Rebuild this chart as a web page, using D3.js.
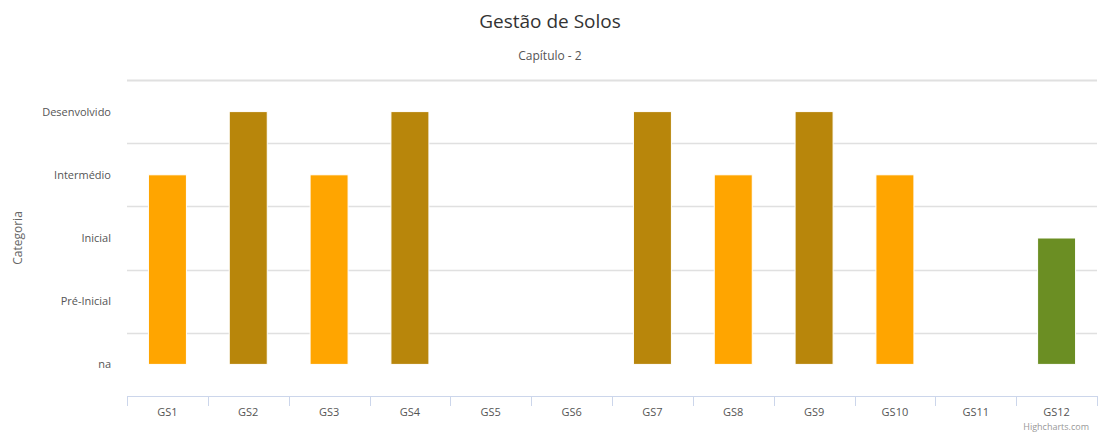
<!DOCTYPE html>
<html><head><meta charset="utf-8">
<script src="https://cdn.jsdelivr.net/npm/d3@7"></script>
<style>body{margin:0;background:#fff}svg{display:block;font-family:"Open Sans",sans-serif}</style>
</head><body><svg id="c" width="1098" height="434"></svg>
<script>
const categories = ["GS1","GS2","GS3","GS4","GS5","GS6","GS7","GS8","GS9","GS10","GS11","GS12"];
const levels = ["na","Pré-Inicial","Inicial","Intermédio","Desenvolvido"];
const values = [3,4,3,4,null,null,4,3,4,3,null,2];
const levelColors = {2:"#6B8E23",3:"#FFA500",4:"#B8860B"};

(function(){
const svg = d3.select("#c");
const pLeft = 127, pRight = 1097, pTop = 80, pBottom = 396;
const x = d3.scaleBand().domain(categories).range([pLeft, pRight]);
const y = d3.scaleLinear().domain([-0.5, 4.5]).range([pBottom, pTop]);

svg.append("text").attr("x",550).attr("y",28).attr("text-anchor","middle")
  .attr("fill","#333").style("font-size","19px").text("Gestão de Solos");
svg.append("text").attr("x",550).attr("y",60).attr("text-anchor","middle")
  .attr("fill","#555").style("font-size","12px").text("Capítulo - 2");

const gridVals = d3.range(-0.5, 4.51, 1).slice(1);
svg.append("g").selectAll("line").data(gridVals).join("line")
  .attr("x1",pLeft).attr("x2",pRight)
  .attr("y1",d=>Math.round(y(d))+0.5).attr("y2",d=>Math.round(y(d))+0.5)
  .attr("stroke","#e0e0e0").attr("stroke-width",d=>d>4?2:1.5);

svg.append("g").selectAll("text").data(levels).join("text")
  .attr("x",111).attr("y",(d,i)=>y(i)+4).attr("text-anchor","end")
  .attr("fill","#555").style("font-size","11px").text(d=>d);

svg.append("text").attr("transform",`translate(22,${(pTop+pBottom)/2}) rotate(-90)`)
  .attr("text-anchor","middle").attr("fill","#666").style("font-size","12px").text("Categoria");

const xa = svg.append("g").attr("transform",`translate(0,${pBottom})`).call(d3.axisBottom(x).tickSize(0).tickPadding(0));
xa.select(".domain").remove();
xa.selectAll("text").attr("fill","#555").style("font-size","11px").attr("dy",0).attr("y",20).style("font-family","Open Sans, sans-serif");
svg.append("line").attr("x1",pLeft).attr("x2",pRight).attr("y1",pBottom+0.5).attr("y2",pBottom+0.5).attr("stroke","#ccd6eb");
const tickPos = categories.map(c=>x(c)).concat([pRight]);
svg.append("g").selectAll("line").data(tickPos).join("line")
  .attr("x1",d=>Math.round(d)+0.5).attr("x2",d=>Math.round(d)+0.5)
  .attr("y1",pBottom).attr("y2",pBottom+10).attr("stroke","#ccd6eb");

const bw = 38;
svg.append("g").selectAll("rect").data(categories.map((c,i)=>({c,v:values[i]})).filter(d=>d.v!==null)).join("rect")
  .attr("x",d=>x(d.c)+x.bandwidth()/2-bw/2).attr("width",bw)
  .attr("y",d=>y(d.v)).attr("height",d=>y(0)-y(d.v))
  .attr("fill",d=>levelColors[d.v]).attr("stroke","#fff").attr("stroke-width",1);

svg.append("text").attr("x",1089).attr("y",430).attr("text-anchor","end")
  .attr("fill","#999").style("font-size","9px").text("Highcharts.com");
})();
</script></body></html>
